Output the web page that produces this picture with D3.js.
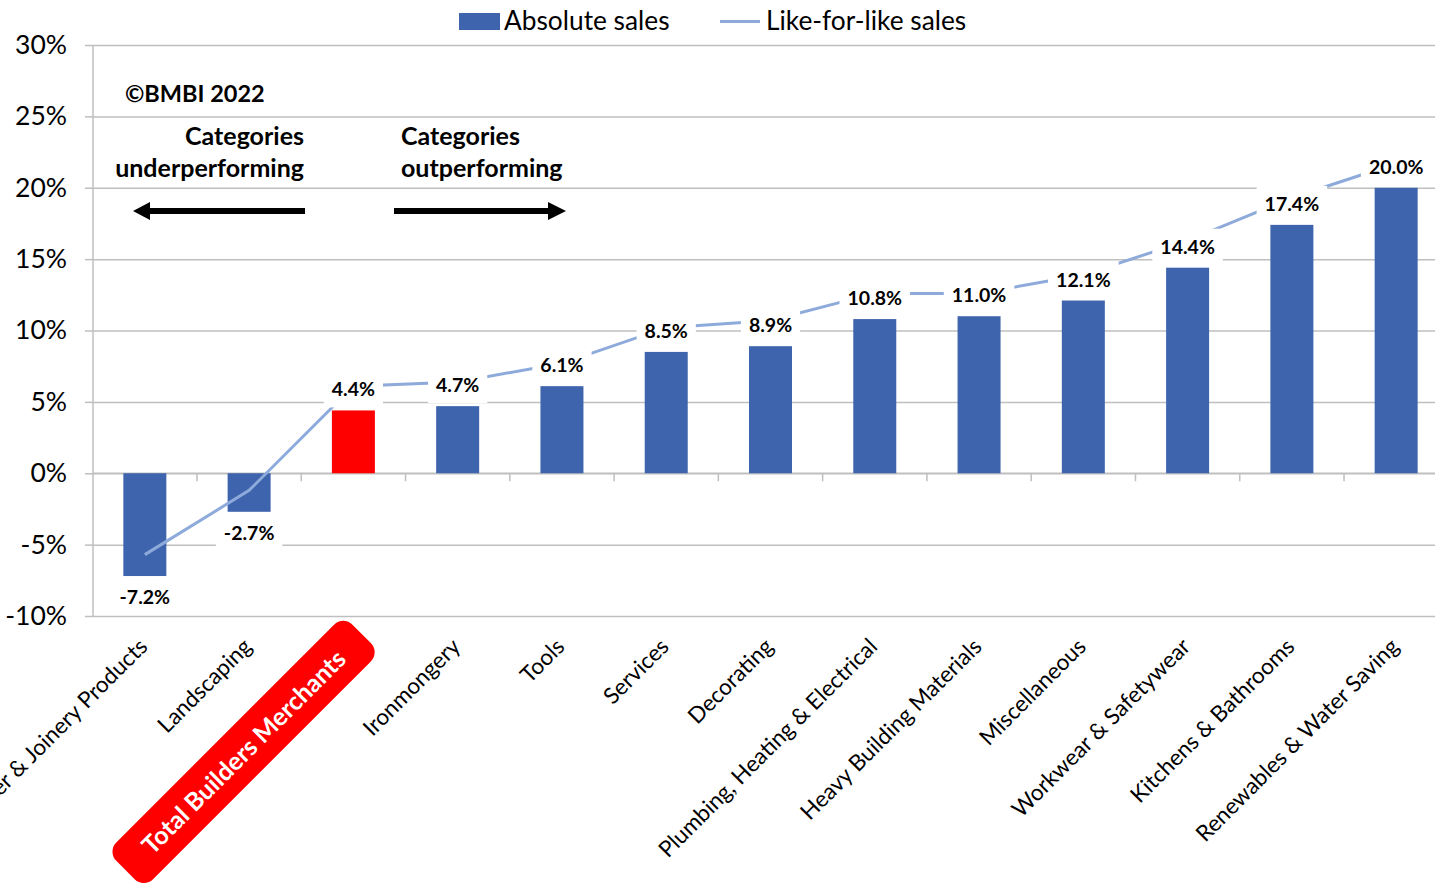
<!DOCTYPE html>
<html><head><meta charset="utf-8">
<script src="https://cdn.jsdelivr.net/npm/d3@7"></script>
<style>body{margin:0;background:#fff;} svg{display:block;font-family:Lato,'Open Sans',sans-serif;}</style>
</head><body><svg id="c" width="1435" height="885"></svg>
<script>
const categories = ["Timber & Joinery Products","Landscaping","Total Builders Merchants","Ironmongery","Tools","Services","Decorating","Plumbing, Heating & Electrical","Heavy Building Materials","Miscellaneous","Workwear & Safetywear","Kitchens & Bathrooms","Renewables & Water Saving"];
const absoluteSales = [-7.2,-2.7,4.4,4.7,6.1,8.5,8.9,10.8,11.0,12.1,14.4,17.4,20.0];
const likeForLike = [-5.7,-1.2,6.1,6.4,7.7,10.2,10.7,12.6,12.6,13.9,16.3,19.3,21.7];
const yTicks = [-10,-5,0,5,10,15,20,25,30];
const highlight = "Total Builders Merchants";
const seriesNames = ["Absolute sales","Like-for-like sales"];

const BLUE = "#3d64ad", RED = "#ff0000", LINE = "#8eaadb", GRID = "#bfbfbf";
const svg = d3.select("#c");
svg.append("rect").attr("width",1435).attr("height",885).attr("fill","#fff");

const x = d3.scaleBand().domain(categories).range([92.7, 1448.3]);
const y = d3.scaleLinear().domain([-10,30]).range([616,45]);
const bw = 43;
const cx = c => x(c) + x.bandwidth()/2;

// gridlines
svg.append("g").attr("transform","translate(93,0)")
  .call(d3.axisLeft(y).tickValues(yTicks).tickSize(-(1448-93)).tickFormat(""))
  .call(g=>{g.select(".domain").remove(); g.selectAll("line").attr("stroke",GRID).attr("stroke-width",1.5);});
// y axis
svg.append("g").attr("transform","translate(93,0)")
  .call(d3.axisLeft(y).tickValues(yTicks).tickSize(8).tickPadding(18).tickFormat(d=>d+"%"))
  .call(g=>{
    g.select(".domain").attr("stroke",GRID).attr("stroke-width",1.5).attr("d","M0,"+y(30)+"V"+y(-10));
    g.selectAll("line").attr("stroke",GRID).attr("stroke-width",1.5);
    g.selectAll("text").attr("font-size",26.5).attr("fill","#000").attr("font-family","Lato");
  });
// x axis at zero
const y0 = y(0);
svg.append("line").attr("x1",93).attr("x2",1448).attr("y1",y0).attr("y2",y0).attr("stroke",GRID).attr("stroke-width",1.5);
svg.append("g").selectAll("line").data(categories.slice(1)).join("line")
  .attr("x1",c=>x(c)).attr("x2",c=>x(c)).attr("y1",y0).attr("y2",y0+8).attr("stroke",GRID).attr("stroke-width",1.5);

// bars
svg.append("g").selectAll("rect").data(categories).join("rect")
  .attr("x",c=>cx(c)-bw/2).attr("width",bw)
  .attr("y",(c,i)=>y(Math.max(0,absoluteSales[i])))
  .attr("height",(c,i)=>Math.abs(y(absoluteSales[i])-y0))
  .attr("fill",c=>c===highlight?RED:BLUE);

// like-for-like line
svg.append("path").datum(likeForLike)
  .attr("d",d3.line().x((d,i)=>cx(categories[i])).y(d=>y(d)))
  .attr("fill","none").attr("stroke",LINE).attr("stroke-width",3);

// data labels
const lab = svg.append("g").selectAll("g").data(categories).join("g")
  .attr("transform",(c,i)=>{const v=absoluteSales[i]; const yy = v>=0? y(v)-21 : y(v)+21; return `translate(${cx(c)},${yy})`;});
lab.append("rect").attr("fill","#fff");
lab.append("text").attr("text-anchor","middle").attr("dy","0.36em")
  .attr("font-weight","bold").attr("font-size",19.5).attr("fill","#000")
  .text((c,i)=>absoluteSales[i].toFixed(1)+"%");
lab.each(function(){
  const g=d3.select(this); const w=g.select("text").node().getComputedTextLength();
  g.select("rect").attr("x",-w/2-8).attr("width",w+16).attr("y",-18).attr("height",36);
});

// category labels
const cl = svg.append("g").selectAll("g").data(categories).join("g")
  .attr("transform",c=>`translate(${cx(c)+4},648) rotate(-45)`);
cl.filter(c=>c!==highlight).append("text").attr("text-anchor","end")
  .attr("font-size",22.5).attr("fill","#000").text(c=>c);
const hl = cl.filter(c=>c===highlight);
hl.append("rect").attr("x",-321).attr("width",334).attr("y",-33).attr("height",52).attr("rx",13).attr("fill",RED);
hl.append("text").attr("x",-154).attr("y",-7).attr("dy","0.36em").attr("text-anchor","middle")
  .attr("font-size",25).attr("font-weight","bold").attr("fill","#fff").text(c=>c);

// annotations
svg.append("text").attr("x",125).attr("y",94).attr("dy","0.36em").attr("font-size",23.5).attr("font-weight","bold").text("©BMBI 2022");
const ann = svg.append("g").attr("font-size",25).attr("font-weight","bold");
ann.append("text").attr("x",304).attr("y",136).attr("dy","0.36em").attr("text-anchor","end").text("Categories");
ann.append("text").attr("x",304).attr("y",168).attr("dy","0.36em").attr("text-anchor","end").text("underperforming");
ann.append("text").attr("x",401).attr("y",136).attr("dy","0.36em").text("Categories");
ann.append("text").attr("x",401).attr("y",168).attr("dy","0.36em").text("outperforming");
svg.append("path").attr("d","M133,211 L150,202 L150,208 L305,208 L305,214 L150,214 L150,220 Z").attr("fill","#000");
svg.append("path").attr("d","M566,211 L548,202 L548,208 L394,208 L394,214 L548,214 L548,220 Z").attr("fill","#000");

// legend
const lg = svg.append("g");
lg.append("rect").attr("x",459).attr("y",13).attr("width",41).attr("height",17).attr("fill",BLUE);
lg.append("text").attr("x",504).attr("y",21).attr("dy","0.36em").attr("font-size",26.3).text(seriesNames[0]);
lg.append("line").attr("x1",720).attr("x2",760).attr("y1",21.5).attr("y2",21.5).attr("stroke",LINE).attr("stroke-width",3);
lg.append("text").attr("x",766).attr("y",21).attr("dy","0.36em").attr("font-size",26.3).text(seriesNames[1]);
</script></body></html>
